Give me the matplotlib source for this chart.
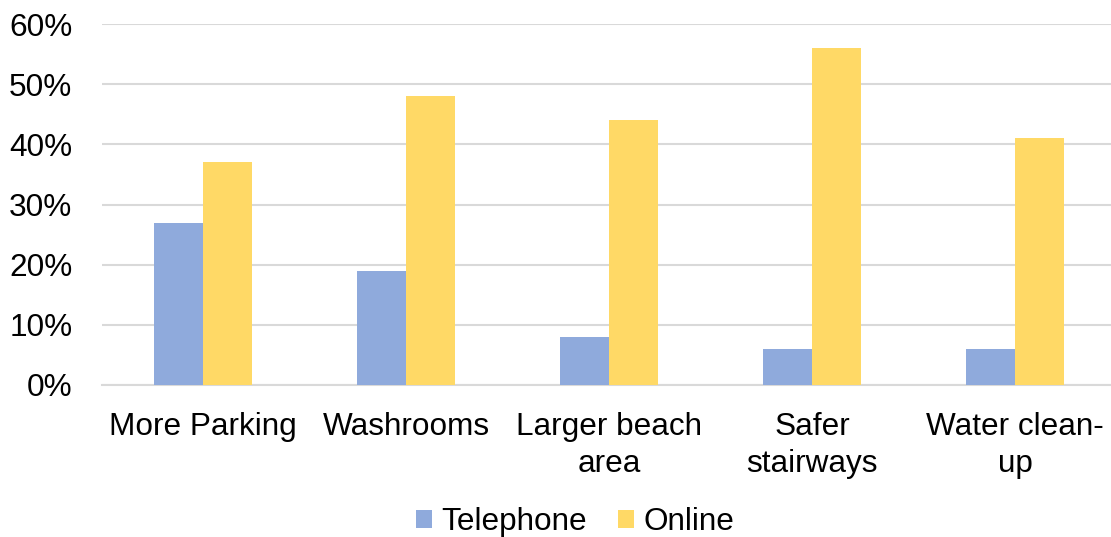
import matplotlib
matplotlib.use("Agg")
import matplotlib.pyplot as plt
import numpy as np
from matplotlib.patches import Patch

categories = ["More Parking", "Washrooms", "Larger beach\narea", "Safer\nstairways", "Water clean-\nup"]
telephone = [27, 19, 8, 6, 6]
online = [37, 48, 44, 56, 41]
series_names = ["Telephone", "Online"]
colors = ["#8FAADC", "#FFD966"]

plt.rcParams['font.family'] = ['Liberation Sans', 'DejaVu Sans']
FS = 22.7

W, H = 1111, 537
fig = plt.figure(figsize=(W / 100, H / 100), dpi=100)
ax = fig.add_axes([101.5 / W, (H - 385) / H, 1015 / W, (385 - 24) / H])

x = np.arange(len(categories))
bw = 0.24
ax.bar(x - bw / 2, telephone, width=bw, color=colors[0], zorder=3)
ax.bar(x + bw / 2, online, width=bw, color=colors[1], zorder=3)

ax.set_xlim(-0.5, len(categories) - 0.5)
ax.set_ylim(0, 60)
ax.set_yticks(range(0, 61, 10))
ax.set_yticklabels([f"{v}%" for v in range(0, 61, 10)], fontsize=FS)
ax.set_xticks(x)
ax.set_xticklabels(categories, fontsize=FS, linespacing=1.3)
ax.tick_params(axis='both', length=0)
ax.tick_params(axis='y', pad=21)
ax.tick_params(axis='x', pad=19.5)
ax.grid(axis='y', color='#D9D9D9', linewidth=1.5, zorder=0)
for s in ['top', 'right', 'left']:
    ax.spines[s].set_visible(False)
ax.spines['bottom'].set_color('#D9D9D9')
ax.spines['bottom'].set_linewidth(1.5)

handles = [Patch(facecolor=c, edgecolor='none') for c in colors]
fig.legend(handles, series_names, loc='center', bbox_to_anchor=(575 / W, 1 - 522 / H),
           ncol=2, frameon=False, fontsize=FS, handlelength=0.5, handleheight=0.5,
           handletextpad=0.3, columnspacing=1.0)

fig.savefig("out.png", dpi=100)
